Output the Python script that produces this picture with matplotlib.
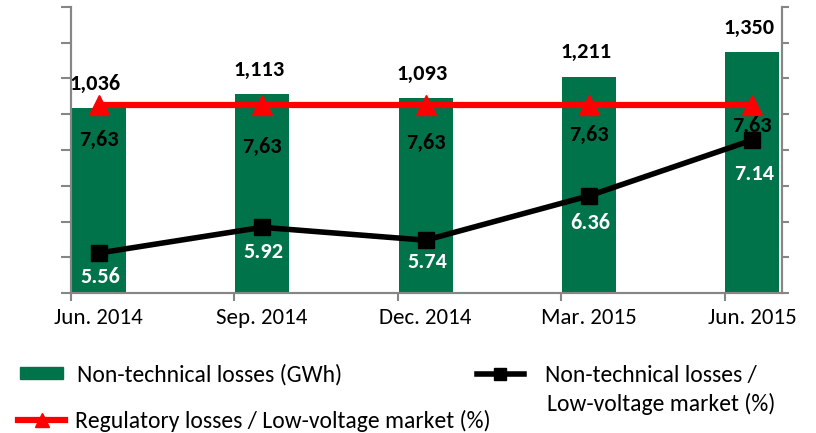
import matplotlib.pyplot as plt
from matplotlib.lines import Line2D
from matplotlib.patches import Patch
import numpy as np

plt.rcParams['font.family'] = ['Carlito', 'Lato', 'DejaVu Sans']

quarters = ['Jun. 2014', 'Sep. 2014', 'Dec. 2014', 'Mar. 2015', 'Jun. 2015']
losses_gwh = [1036, 1113, 1093, 1211, 1350]
nt_share = [5.56, 5.92, 5.74, 6.36, 7.14]
reg_share = [7.63, 7.63, 7.63, 7.63, 7.63]
reg_labels = ['7,63', '7,63', '7,63', '7,63', '7,63']

green = '#00734a'
grey = '#868686'

x = np.arange(len(quarters))
fig = plt.figure(figsize=(8.16, 4.33), dpi=100)
ax = fig.add_axes([0.087, 0.323, 0.871, 0.661])
ax2 = ax.twinx()

ax.bar(x, losses_gwh, width=0.33, color=green, zorder=2)
ax.set_ylim(0, 1600)
ax.set_yticks(np.arange(0, 1601, 200))
ax.set_yticklabels([])
ax.set_xlim(-0.17, 4.18)
ax.set_xticks(x)
ax.set_xticklabels(quarters, fontsize=16.5)
ax.tick_params(axis='x', length=0, pad=11)
ax.set_xticks(x - 0.17, minor=True)
ax.tick_params(axis='x', which='minor', length=6, width=1.5, color=grey)
ax.tick_params(axis='y', length=7, width=1.5, color=grey)

for xi, v in zip(x, losses_gwh):
    ax.text(xi - 0.02, v + 135, f'{v:,}', ha='center', va='center',
            fontsize=16, fontweight='bold')

ax2.plot(x, reg_share, color='red', lw=4.5, marker='^', ms=14, zorder=3)
ax2.plot(x, nt_share, color='black', lw=4, marker='s', ms=12, zorder=4)
ax2.set_ylim(5, 9)
ax2.set_yticks(np.arange(5, 9.01, 0.5))
ax2.set_yticklabels([])
ax2.tick_params(axis='y', length=5, width=1.5, color=grey)

reg_dy = [-0.49, -0.59, -0.53, -0.42, -0.30]
for xi, v, lab, dy in zip(x, reg_share, reg_labels, reg_dy):
    ax2.text(xi, v + dy, lab, ha='center', va='center',
             fontsize=16, fontweight='bold', zorder=5)

nt_dy = [-0.34, -0.34, -0.30, -0.38, -0.48]
for xi, v, dy in zip(x, nt_share, nt_dy):
    ax2.text(xi + 0.01, v + dy, f'{v:.2f}', ha='center', va='center',
             fontsize=16, fontweight='bold', color='white', zorder=5)

for a in (ax, ax2):
    a.spines['top'].set_visible(False)
    for s in ('left', 'right', 'bottom'):
        a.spines[s].set_color(grey)
        a.spines[s].set_linewidth(1.5)

# legend entries laid out by hand below the plot
leg_kw = dict(frameon=False, borderaxespad=0, borderpad=0, fontsize=17)
fig.legend(handles=[Patch(color=green)], labels=['Non-technical losses (GWh)'],
           loc='center left', bbox_to_anchor=(0.024, 0.135),
           handlelength=1.82, handleheight=0.45, handletextpad=0.6, **leg_kw)
fig.legend(handles=[Line2D([], [], color='red', lw=4.5, marker='^', ms=10)],
           labels=['Regulatory losses / Low-voltage market (%)'],
           loc='center left', bbox_to_anchor=(0.022, 0.028),
           handlelength=2.0, handletextpad=0.4, **leg_kw)
fig.legend(handles=[Line2D([], [], color='black', lw=4, marker='s', ms=9)],
           labels=['Non-technical losses /'],
           loc='center left', bbox_to_anchor=(0.584, 0.133),
           handlelength=2.0, handletextpad=0.92, **leg_kw)
fig.text(0.670, 0.067, 'Low-voltage market (%)', fontsize=17,
         ha='left', va='center')

fig.savefig('out.png', dpi=100)
